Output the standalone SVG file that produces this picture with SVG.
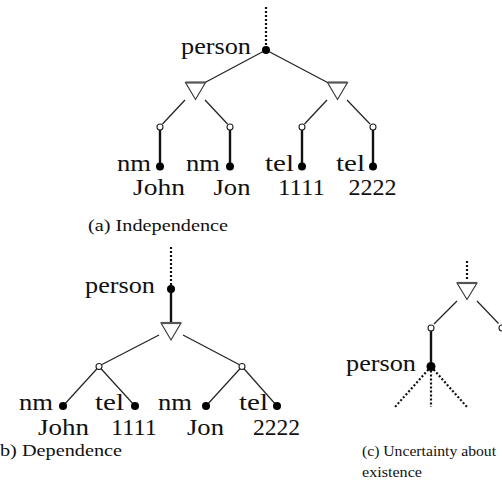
<svg xmlns="http://www.w3.org/2000/svg" width="502" height="495" viewBox="0 0 502 495">
<style>
.lb{font-family:"Liberation Serif","Times New Roman",serif;font-size:23px;fill:#111}
.e{text-anchor:end}
.m{text-anchor:middle}
.cap{font-family:"Liberation Serif","Times New Roman",serif;font-size:17px;fill:#111}
.capc{font-family:"Liberation Serif","Times New Roman",serif;font-size:15.5px;fill:#111}
.thin{stroke:#222;stroke-width:1.2;fill:none}
.thick{stroke:#111;stroke-width:2.4;fill:none}
.dot{stroke:#111;stroke-width:2.2;stroke-dasharray:2 2;fill:none}
.tri{fill:#fff;stroke:#333;stroke-width:1.1}
.tritop{stroke:#555;stroke-width:2.2}
.oc{fill:#fff;stroke:#222;stroke-width:1.1}
.bc{fill:#000}
</style>
<g id="connectors">
<line class="dot" x1="266" y1="7" x2="266" y2="47"/>
<line class="thin" x1="266" y1="50" x2="205" y2="82.5"/>
<line class="thin" x1="266" y1="50" x2="327.5" y2="82.5"/>
<line class="thin" x1="185" y1="100" x2="162.5" y2="124"/>
<line class="thin" x1="205" y1="100" x2="227.5" y2="124"/>
<line class="thin" x1="327" y1="100" x2="304.5" y2="124"/>
<line class="thin" x1="347" y1="100" x2="370" y2="124"/>
<line class="thick" x1="160" y1="130" x2="160" y2="166.5"/>
<line class="thick" x1="230" y1="130" x2="230" y2="166.5"/>
<line class="thick" x1="302" y1="130" x2="302" y2="166.5"/>
<line class="thick" x1="373" y1="130" x2="373" y2="166.5"/>
<line class="dot" x1="171" y1="247" x2="171" y2="286"/>
<line class="thick" x1="171" y1="289" x2="171" y2="322"/>
<line class="thin" x1="159" y1="335" x2="102" y2="364.5"/>
<line class="thin" x1="183" y1="335" x2="239" y2="364.5"/>
<line class="thin" x1="99" y1="366.5" x2="63" y2="406"/>
<line class="thin" x1="99" y1="366.5" x2="135" y2="406"/>
<line class="thin" x1="242" y1="366.5" x2="206" y2="406"/>
<line class="thin" x1="242" y1="366.5" x2="277" y2="406"/>
<line class="dot" x1="467" y1="261" x2="467" y2="280"/>
<line class="thin" x1="457" y1="301" x2="434" y2="324"/>
<line class="thin" x1="477" y1="301" x2="498.5" y2="323.5"/>
<line class="thick" x1="431" y1="328" x2="431" y2="366.5"/>
<line class="dot" x1="431" y1="366.5" x2="395" y2="407"/>
<line class="dot" x1="431" y1="366.5" x2="431" y2="407"/>
<line class="dot" x1="431" y1="366.5" x2="467" y2="407"/>
</g>
<g id="a-person"><circle class="bc" cx="266" cy="50" r="4"/><text class="lb e" x="251" y="54" textLength="70" lengthAdjust="spacingAndGlyphs">person</text></g>
<g id="a-tri1"><polygon class="tri" points="185.5,82.5 205.5,82.5 195.5,99.5"/><line class="tritop" x1="185.5" y1="82.5" x2="205.5" y2="82.5"/></g>
<g id="a-tri2"><polygon class="tri" points="327.5,82.5 347.5,82.5 337.5,99.5"/><line class="tritop" x1="327.5" y1="82.5" x2="347.5" y2="82.5"/></g>
<g id="a-c1"><circle class="oc" cx="160" cy="127" r="3"/></g>
<g id="a-c2"><circle class="oc" cx="230" cy="127" r="3"/></g>
<g id="a-c3"><circle class="oc" cx="302" cy="127" r="3"/></g>
<g id="a-c4"><circle class="oc" cx="373" cy="127" r="3"/></g>
<g id="a-nm1"><circle class="bc" cx="160" cy="166.5" r="4"/><text class="lb e" x="151" y="171" textLength="34" lengthAdjust="spacingAndGlyphs">nm</text><text class="lb m" x="159" y="195" textLength="52" lengthAdjust="spacingAndGlyphs">John</text></g>
<g id="a-nm2"><circle class="bc" cx="230" cy="166.5" r="4"/><text class="lb e" x="220" y="171" textLength="34" lengthAdjust="spacingAndGlyphs">nm</text><text class="lb m" x="232" y="195" textLength="37" lengthAdjust="spacingAndGlyphs">Jon</text></g>
<g id="a-tel1"><circle class="bc" cx="302" cy="166.5" r="4"/><text class="lb e" x="294" y="171" textLength="29" lengthAdjust="spacingAndGlyphs">tel</text><text class="lb m" x="301.5" y="195" textLength="47" lengthAdjust="spacingAndGlyphs">1111</text></g>
<g id="a-tel2"><circle class="bc" cx="373" cy="166.5" r="4"/><text class="lb e" x="365" y="171" textLength="29" lengthAdjust="spacingAndGlyphs">tel</text><text class="lb m" x="372.5" y="195" textLength="48" lengthAdjust="spacingAndGlyphs">2222</text></g>
<g id="a-caption"><text class="cap" x="88" y="231" textLength="140" lengthAdjust="spacingAndGlyphs">(a)  Independence</text></g>

<g id="b-person"><circle class="bc" cx="171" cy="289" r="4"/><text class="lb e" x="155" y="293" textLength="70" lengthAdjust="spacingAndGlyphs">person</text></g>
<g id="b-tri"><polygon class="tri" points="161,323 181,323 171,340"/><line class="tritop" x1="161" y1="323" x2="181" y2="323"/></g>
<g id="b-c1"><circle class="oc" cx="99" cy="366.5" r="3"/></g>
<g id="b-c2"><circle class="oc" cx="242" cy="366.5" r="3"/></g>
<g id="b-nm1"><circle class="bc" cx="63" cy="406" r="4"/><text class="lb e" x="53" y="410" textLength="34" lengthAdjust="spacingAndGlyphs">nm</text><text class="lb m" x="63.5" y="435" textLength="51" lengthAdjust="spacingAndGlyphs">John</text></g>
<g id="b-tel1"><circle class="bc" cx="135" cy="406" r="4"/><text class="lb e" x="124" y="410" textLength="29" lengthAdjust="spacingAndGlyphs">tel</text><text class="lb m" x="134" y="435" textLength="46" lengthAdjust="spacingAndGlyphs">1111</text></g>
<g id="b-nm2"><circle class="bc" cx="206" cy="406" r="4"/><text class="lb e" x="192" y="410" textLength="34" lengthAdjust="spacingAndGlyphs">nm</text><text class="lb m" x="205.5" y="435" textLength="37" lengthAdjust="spacingAndGlyphs">Jon</text></g>
<g id="b-tel2"><circle class="bc" cx="277" cy="406" r="4"/><text class="lb e" x="268" y="410" textLength="29" lengthAdjust="spacingAndGlyphs">tel</text><text class="lb m" x="276.5" y="435" textLength="47" lengthAdjust="spacingAndGlyphs">2222</text></g>
<g id="b-caption"><text class="cap" x="0" y="456" textLength="122" lengthAdjust="spacingAndGlyphs">b)  Dependence</text></g>

<g id="c-tri"><polygon class="tri" points="457,283 477,283 467,299.5"/><line class="tritop" x1="457" y1="283" x2="477" y2="283"/></g>
<g id="c-c1"><circle class="oc" cx="431" cy="328" r="3"/></g>
<g id="c-c2"><circle class="oc" cx="502" cy="328" r="3"/></g>
<g id="c-person"><circle class="bc" cx="431" cy="366.5" r="4.5"/><text class="lb e" x="416" y="371" textLength="70" lengthAdjust="spacingAndGlyphs">person</text></g>
<g id="c-caption"><text class="capc" x="362" y="456" textLength="134" lengthAdjust="spacingAndGlyphs">(c) Uncertainty about</text><text class="capc" x="362" y="477" textLength="60" lengthAdjust="spacingAndGlyphs">existence</text></g>
</svg>
